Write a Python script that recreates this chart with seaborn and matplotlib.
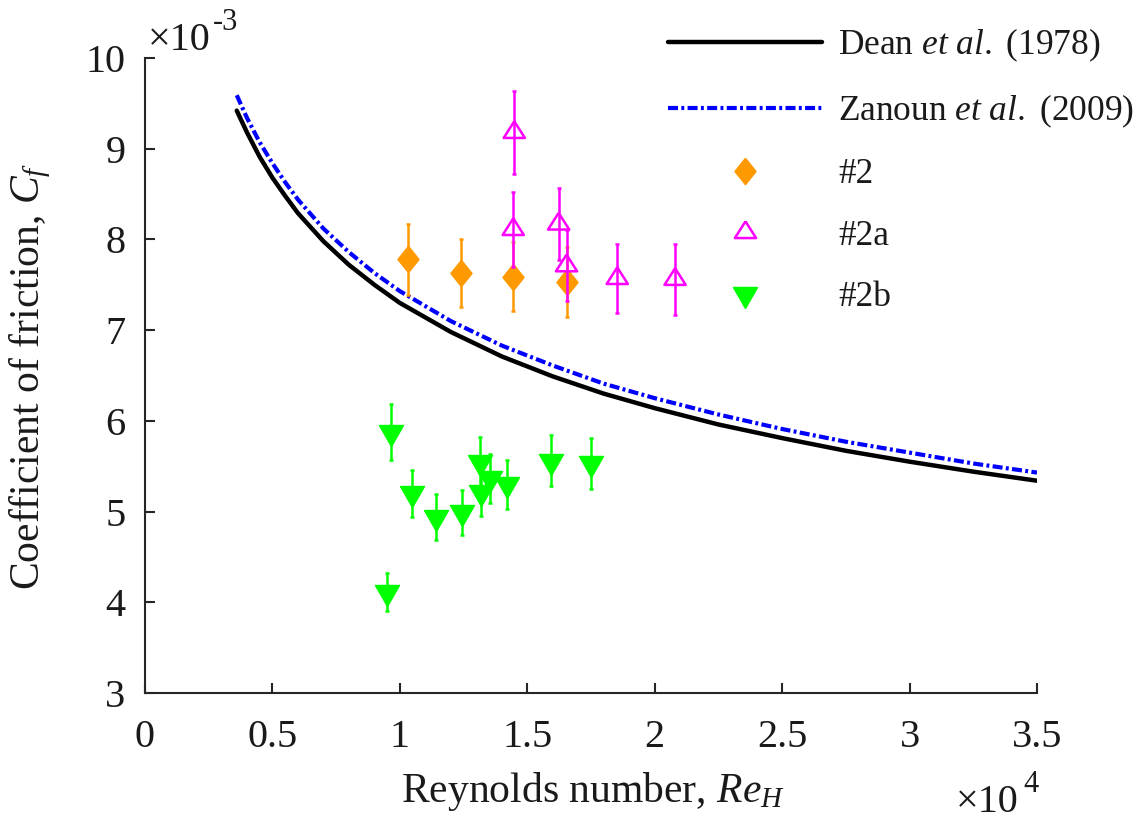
import matplotlib
matplotlib.use("Agg")
import matplotlib.pyplot as plt
import seaborn as sns
from matplotlib.lines import Line2D
from matplotlib.ticker import FuncFormatter

# ---------------- data (Re in units of 1e4, Cf in units of 1e-3) ----------------
re_curve = [0.36, 0.40, 0.45, 0.50, 0.55, 0.60, 0.70, 0.80, 0.90, 1.00, 1.20, 1.40,
            1.60, 1.80, 2.00, 2.25, 2.50, 2.75, 3.00, 3.25, 3.50]
cf_dean = [9.42, 9.18, 8.91, 8.68, 8.48, 8.29, 7.98, 7.72, 7.50, 7.30, 6.98, 6.71,
           6.49, 6.30, 6.14, 5.96, 5.81, 5.67, 5.55, 5.44, 5.34]
cf_zanoun = [9.59, 9.34, 9.07, 8.84, 8.63, 8.44, 8.12, 7.86, 7.63, 7.43, 7.10, 6.83,
             6.61, 6.41, 6.25, 6.07, 5.91, 5.77, 5.65, 5.53, 5.43]

re_2 = [1.03, 1.24, 1.445, 1.655]
cf_2 = [7.78, 7.63, 7.59, 7.53]
err_2 = [0.39, 0.38, 0.38, 0.39]

re_2a = [1.449, 1.445, 1.623, 1.654, 1.853, 2.080]
cf_2a = [9.18, 8.11, 8.17, 7.71, 7.57, 7.56]
err_2a = [0.46, 0.41, 0.40, 0.39, 0.38, 0.39]

re_2b = [0.964, 1.047, 1.142, 1.245, 1.314, 1.317, 1.353, 1.419, 1.594, 1.751, 0.951]
cf_2b = [5.88, 5.20, 4.94, 4.99, 5.55, 5.22, 5.37, 5.30, 5.56, 5.53, 4.11]
err_2b = [0.31, 0.26, 0.25, 0.25, 0.27, 0.27, 0.27, 0.27, 0.28, 0.28, 0.21]

labels = [r"Dean $\mathit{et\ al.}$ (1978)", r"Zanoun $\mathit{et\ al.}$ (2009)",
          "#2", "#2a", "#2b"]

# ---------------- style ----------------
sns.set_style("ticks")
FONT = "Liberation Serif"
plt.rcParams.update({
    "font.family": [FONT, "DejaVu Serif"],
    "mathtext.fontset": "custom",
    "mathtext.rm": FONT,
    "mathtext.it": FONT + ":italic",
    "mathtext.bf": FONT + ":bold",
})

C_ORANGE = "#FF9900"
C_MAGENTA = "#FF00FF"
C_GREEN = "#00FF00"
C_BLUE = "#0000FF"
AX_C = "#262626"
TXT_C = "#1a1a1a"

diamond = [(0, 1.25), (1, 0), (0, -1.25), (-1, 0), (0, 1.25)]
tri_up = [(0, 11), (-10.5, -5.5), (10.5, -5.5), (0, 11)]
tri_down = [(0, -14), (-12, 7), (12, 7), (0, -14)]

MS_D, MS_U, MS_V = 19.0, 16.0, 20.2
DASHDOT = (0, (2.4, 0.8, 0.7, 0.8))

fig = plt.figure(figsize=(11.44, 8.25), dpi=100)
W, H = 1144, 825
ax = fig.add_axes([145 / W, 1 - 693 / H, 892 / W, 635 / H])

# curves
sns.lineplot(x=re_curve, y=cf_dean, color="black", lw=3.2, ax=ax,
             estimator=None, sort=False, zorder=3)
sns.lineplot(x=re_curve, y=cf_zanoun, color=C_BLUE, lw=3.0, ax=ax,
             estimator=None, sort=False, zorder=4, linestyle=DASHDOT)

# #2
ax.errorbar(re_2, cf_2, yerr=err_2, fmt="none", ecolor=C_ORANGE, elinewidth=1.8,
            capsize=1.5, capthick=1.8, zorder=5)
sns.scatterplot(x=re_2, y=cf_2, marker=diamond, s=MS_D ** 2, color=C_ORANGE,
                edgecolor=C_ORANGE, linewidth=1, ax=ax, zorder=6)
# #2a
ax.errorbar(re_2a, cf_2a, yerr=err_2a, fmt="none", ecolor=C_MAGENTA, elinewidth=1.8,
            capsize=1.5, capthick=1.8, zorder=7)
sns.scatterplot(x=re_2a, y=cf_2a, marker=tri_up, s=MS_U ** 2, color=C_MAGENTA,
                facecolor="none", edgecolor=C_MAGENTA, linewidth=1.8, ax=ax, zorder=8)
# #2b
ax.errorbar(re_2b, cf_2b, yerr=err_2b, fmt="none", ecolor=C_GREEN, elinewidth=1.8,
            capsize=1.5, capthick=1.8, zorder=9)
sns.scatterplot(x=re_2b, y=cf_2b, marker=tri_down, s=MS_V ** 2, color=C_GREEN,
                edgecolor=C_GREEN, linewidth=1, ax=ax, zorder=10)

# axes
ax.set_xlim(0, 3.5)
ax.set_ylim(3, 10)
ax.set_xticks([0, 0.5, 1, 1.5, 2, 2.5, 3, 3.5])
ax.set_yticks([3, 4, 5, 6, 7, 8, 9, 10])
fmt = FuncFormatter(lambda v, p: "%g" % v)
ax.xaxis.set_major_formatter(fmt)
ax.yaxis.set_major_formatter(fmt)
for s in ["top", "right"]:
    ax.spines[s].set_visible(False)
for s in ["left", "bottom"]:
    ax.spines[s].set_color(AX_C)
    ax.spines[s].set_linewidth(1.5)
ax.tick_params(axis="both", direction="in", length=7, width=1.5, color=AX_C,
               labelsize=29, labelcolor=TXT_C)
ax.tick_params(axis="x", pad=19)
ax.tick_params(axis="y", pad=14)
ax.set_xlabel("")
ax.set_ylabel("")

# labels
fig.text(593 / W, 1 - 802 / H, r"Reynolds number, $Re_H$", ha="center",
         va="baseline", fontsize=30, color=TXT_C)
fig.text(30 / W, 1 - 376 / H, r"Coefficient of friction, $C_f$", ha="center",
         va="center", rotation=90, fontsize=30, color=TXT_C)

# multipliers
fig.text(1019 / W, 1 - 812 / H, "\u00d710", ha="right", va="baseline",
         fontsize=29, color=TXT_C)
fig.text(1039 / W, 1 - 792 / H, "4", ha="right", va="baseline",
         fontsize=22, color=TXT_C)
fig.text(148 / W, 1 - 50 / H, "\u00d710", ha="left", va="baseline",
         fontsize=29, color=TXT_C)
fig.text(213 / W, 1 - 30 / H, "-3", ha="left", va="baseline",
         fontsize=22, color=TXT_C)

# legend
handles = [
    Line2D([], [], color="black", lw=3.2),
    Line2D([], [], color=C_BLUE, lw=3.0, linestyle=DASHDOT),
    Line2D([], [], ls="none", marker=diamond, markersize=MS_D, color=C_ORANGE,
           mec=C_ORANGE, mew=1),
    Line2D([], [], ls="none", marker=tri_up, markersize=MS_U, color=C_MAGENTA,
           mfc="none", mec=C_MAGENTA, mew=1.8),
    Line2D([], [], ls="none", marker=tri_down, markersize=MS_V, color=C_GREEN,
           mec=C_GREEN, mew=1),
]
leg = fig.legend(handles, labels, loc="upper left",
                 bbox_to_anchor=(668 / W, 1 - 27 / H), frameon=False,
                 fontsize=25.5, handlelength=4.35, handletextpad=0.45,
                 labelspacing=0.80, borderpad=0, borderaxespad=0, numpoints=1)
for t in leg.get_texts():
    t.set_color(TXT_C)

fig.savefig("out.png", dpi=100, facecolor="white")
